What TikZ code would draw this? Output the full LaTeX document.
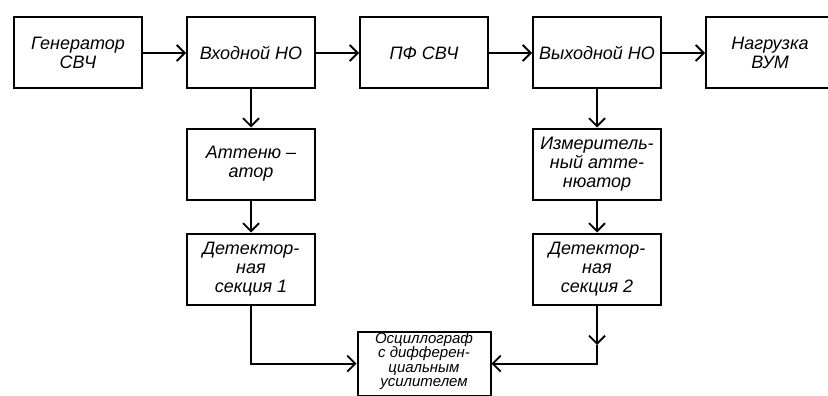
\documentclass[tikz,border=0pt]{standalone}
\usepackage{fontspec}
\setmainfont{Liberation Sans}
\usetikzlibrary{positioning,arrows.meta}
\begin{document}
\begin{tikzpicture}[x=1pt, y=-1pt, node distance={43pt},
  block/.style = {draw, line width=2pt, minimum width=128pt, minimum height=71pt, align=center, inner sep=2pt, font=\fontsize{18}{19}\selectfont\itshape},
  small/.style = {font=\fontsize{15}{14.5}\selectfont\itshape},
  link/.style = {line width=1.8pt, -{Straight Barb[length=8pt,width=16pt]}}]
\useasboundingbox (0,0) rectangle (828,396);
\node[block] (gen) at (78,53) {Генератор\\СВЧ};
\node[block] (vxod) [right=of gen] {Входной НО};
\node[block] (pf) [right=of vxod] {ПФ СВЧ};
\node[block] (vyx) [right=of pf] {Выходной НО};
\node[block] (nagr) [right=of vyx] {Нагрузка\\ВУМ};
\node[block] (att) [below=38pt of vxod] {Аттеню –\\атор};
\node[block] (det1) [below=32pt of att] {Детектор-\\ная\\секция 1};
\node[block] (izm) [below=38pt of vyx] {Измеритель-\\ный атте-\\нюатор};
\node[block] (det2) [below=32pt of izm] {Детектор-\\ная\\секция 2};
\node[block, small, minimum width=133pt, minimum height=0pt, inner ysep=1pt, text depth=8pt] (osc) [below=241pt of pf] {Осциллограф\\с дифферен-\\циальным\\усилителем};
\coordinate (mid2) at (det2.south |- 0,345);
\draw[link] (gen) -- (vxod);
\draw[link] (vxod) -- (pf);
\draw[link] (pf) -- (vyx);
\draw[link] (vyx) -- (nagr);
\draw[link] (vxod) -- (att);
\draw[link] (att) -- (det1);
\draw[link] (vyx) -- (izm);
\draw[link] (izm) -- (det2);
\draw[link] (det1) |- (osc);
\draw[link] (det2) -- (mid2);
\draw[link] (mid2) |- (osc);
\end{tikzpicture}
\end{document}
